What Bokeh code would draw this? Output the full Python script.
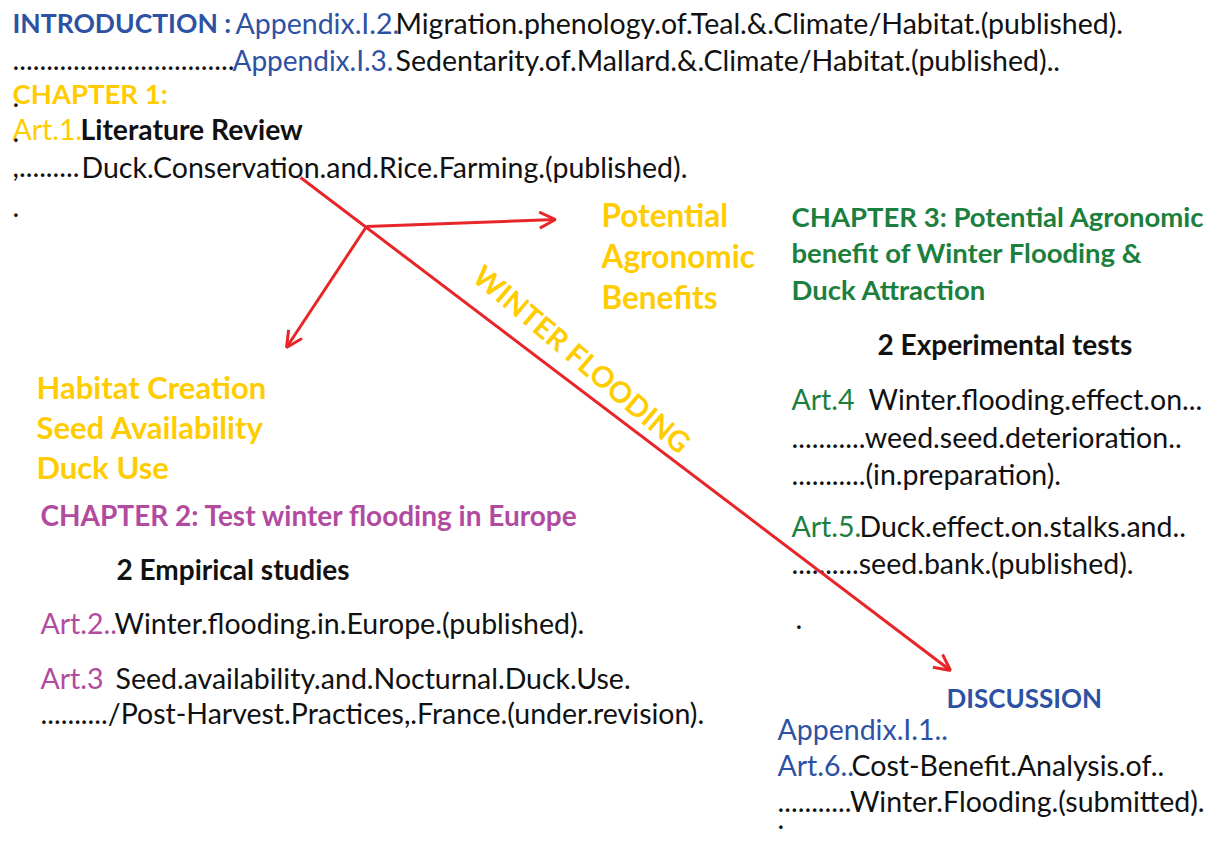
from bokeh.plotting import figure
from bokeh.models import Range1d, ColumnDataSource, Arrow, OpenHead
from bokeh.core.properties import value
from bokeh.embed import file_html
from bokeh.resources import INLINE

BLUE = "#2E52A3"
YELLOW = "#FFCC00"
GREEN = "#1C7F3E"
PURPLE = "#B24BA0"
BLACK = "#111111"
RED = "#E8262A"

W, H = 1211, 842

# text segments: content
seg_text = [
    "INTRODUCTION :", "Appendix.I.2.", "Migration.phenology.of.Teal.&.Climate/Habitat.(published).",
    ".................................", "Appendix.I.3.", "Sedentarity.of.Mallard.&.Climate/Habitat.(published)..",
    "CHAPTER 1:", ".",
    "Art.1.", "Literature Review", ".",
    ",.........", "Duck.Conservation.and.Rice.Farming.(published).",
    ".",
    "Potential", "Agronomic", "Benefits",
    "CHAPTER 3: Potential Agronomic", "benefit of Winter Flooding &", "Duck Attraction",
    "2 Experimental tests",
    "Art.4", "Winter.flooding.effect.on...",
    "...........weed.seed.deterioration..",
    "...........(in.preparation).",
    "Art.5.", "Duck.effect.on.stalks.and..",
    "..........seed.bank.(published).",
    ".",
    "DISCUSSION",
    "Appendix.I.1..",
    "Art.6..", "Cost-Benefit.Analysis.of..",
    "...........Winter.Flooding.(submitted).",
    ".",
    "Habitat Creation", "Seed Availability", "Duck Use",
    "CHAPTER 2: Test winter flooding in Europe",
    "2 Empirical studies",
    "Art.2..", "Winter.flooding.in.Europe.(published).",
    "Art.3", "Seed.availability.and.Nocturnal.Duck.Use.",
    "........../Post-Harvest.Practices,.France.(under.revision).",
]
seg_x = [
    12, 235, 395,
    12, 232, 395,
    12, 12,
    12, 80, 12,
    12, 81,
    12,
    601, 601, 601,
    791, 791, 791,
    877,
    791, 868,
    791,
    791,
    791, 859,
    791,
    795,
    946,
    777,
    777, 851,
    777,
    777,
    36, 36, 36,
    40,
    116,
    40, 114,
    40, 115,
    40,
]
seg_y = [
    22, 22, 22,
    59, 59, 59,
    93, 96,
    128, 128, 131,
    166, 166,
    206,
    214, 255, 296,
    216, 252, 289,
    343,
    398, 398,
    436,
    473,
    525, 525,
    562,
    618,
    697,
    728,
    764, 764,
    800,
    818,
    386, 426, 466,
    514,
    568,
    622, 622,
    677, 677,
    712,
]
seg_color = [
    BLUE, BLUE, BLACK,
    BLACK, BLUE, BLACK,
    YELLOW, BLACK,
    YELLOW, BLACK, BLACK,
    BLACK, BLACK,
    BLACK,
    YELLOW, YELLOW, YELLOW,
    GREEN, GREEN, GREEN,
    BLACK,
    GREEN, BLACK,
    BLACK,
    BLACK,
    GREEN, BLACK,
    BLACK,
    BLACK,
    BLUE,
    BLUE,
    BLUE, BLACK,
    BLACK,
    BLACK,
    YELLOW, YELLOW, YELLOW,
    PURPLE,
    BLACK,
    PURPLE, BLACK,
    PURPLE, BLACK,
    BLACK,
]
seg_style = [
    "bold", "normal", "normal",
    "normal", "normal", "normal",
    "bold", "normal",
    "normal", "bold", "normal",
    "normal", "normal",
    "normal",
    "bold", "bold", "bold",
    "bold", "bold", "bold",
    "bold",
    "normal", "normal",
    "normal",
    "normal",
    "normal", "normal",
    "normal",
    "normal",
    "bold",
    "normal",
    "normal", "normal",
    "normal",
    "normal",
    "bold", "bold", "bold",
    "bold",
    "bold",
    "normal", "normal",
    "normal", "normal",
    "normal",
]
R = "28.5px"
seg_size = [
    "26.5px", R, R,
    R, "28px", R,
    "27.5px", R,
    R, "28.3px", R,
    R, R,
    R,
    "31.5px", "31.5px", "31.5px",
    "27.5px", "27.5px", "27.5px",
    "28px",
    R, R,
    R,
    R,
    R, R,
    R,
    R,
    "26px",
    R,
    R, R,
    R,
    R,
    "31px", "31px", "31px",
    "28px",
    "28px",
    R, R,
    R, R,
    R,
]

# arrows (start -> end)
arrow_x0 = [300, 366, 366]
arrow_y0 = [177, 226, 226]
arrow_x1 = [950, 555, 286]
arrow_y1 = [670, 219, 347]

diag_label = ["WINTER FLOODING"]
diag_x = [582]
diag_y = [358]
diag_angle = [-0.70]

p = figure(width=W, height=H, output_backend="svg", toolbar_location=None,
           x_range=Range1d(0, W), y_range=Range1d(H, 0), min_border=0)
p.axis.visible = False
p.grid.visible = False
p.outline_line_color = None
p.background_fill_color = "white"
p.border_fill_color = "white"

src = ColumnDataSource(dict(text=seg_text, x=seg_x, y=seg_y, color=seg_color,
                            style=seg_style, size=seg_size))
p.text(x="x", y="y", text="text", source=src, text_color="color",
       text_font_style="style", text_font_size="size", text_font=value("Lato"),
       text_align="left", text_baseline="middle")

for x0, y0, x1, y1 in zip(arrow_x0, arrow_y0, arrow_x1, arrow_y1):
    p.add_layout(Arrow(end=OpenHead(size=16, line_color=RED, line_width=3),
                       x_start=x0, y_start=y0, x_end=x1, y_end=y1,
                       line_color=RED, line_width=3))

dsrc = ColumnDataSource(dict(text=diag_label, x=diag_x, y=diag_y, angle=diag_angle))
p.text(x="x", y="y", text="text", angle="angle", source=dsrc, text_color=YELLOW,
       text_font_style="bold", text_font_size="29px", text_font=value("Lato"),
       text_align="center", text_baseline="middle")

open("out.html", "w").write(file_html(p, INLINE))
